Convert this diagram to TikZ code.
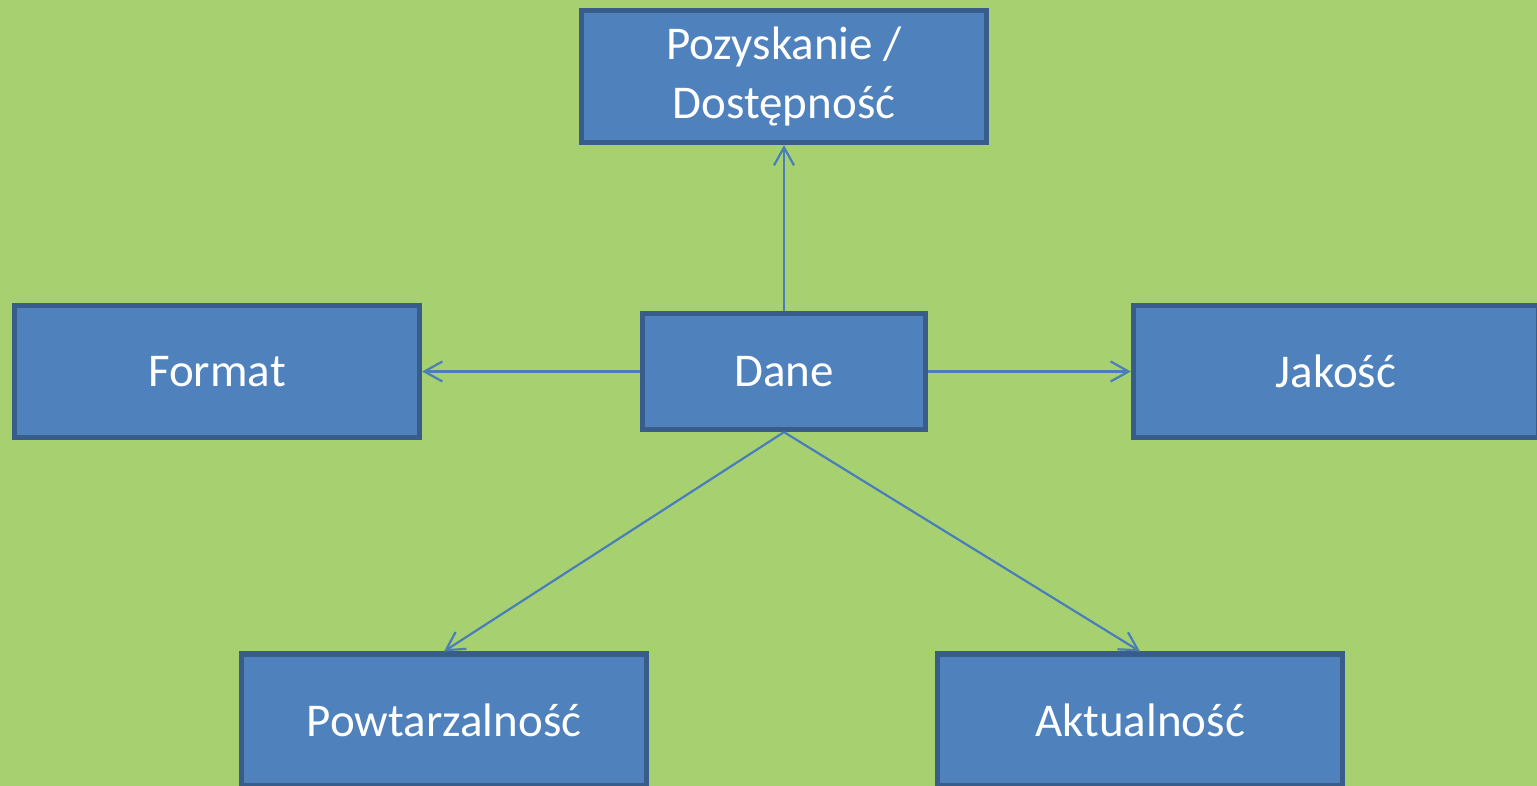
\documentclass[tikz,border=0pt]{standalone}
\usepackage{fontspec}
\setmainfont{Carlito}
\usetikzlibrary{arrows.meta}
\definecolor{bg}{HTML}{A7D170}
\definecolor{boxfill}{HTML}{4F81BD}
\definecolor{boxline}{HTML}{385D8A}
\definecolor{conn}{HTML}{4A7EBB}
\tikzset{
  box/.style={draw=boxline, fill=boxfill, line width=2.6pt, text=white,
    font=\fontsize{23.5}{29.5}\selectfont, align=center, inner sep=0pt,
    minimum width=202.5pt, minimum height=66pt},
  smallbox/.style={box, minimum width=141.5pt, minimum height=58pt},
  conn/.style={draw=conn, line width=1.1pt, -{Straight Barb[length=9pt,width=10pt,line width=1.1pt]}}
}
\begin{document}
\begin{tikzpicture}[x=0.5pt,y=-0.5pt]
\fill[bg] (0,0) rectangle (1537,786);
\useasboundingbox (0,0) rectangle (1537,786);
\node[box] (top) at (784,76.5) {Pozyskanie /\\Dostępność};
\node[box] (format) at (217,371.5) {Format};
\node[smallbox] (dane) at (784,371.5) {Dane};
\node[box] (jakosc) at (1336,371.5) {Jakość};
\node[box] (powt) at (444,720) {Powtarzalność};
\node[box] (akt) at (1140,720) {Aktualność};
\draw[conn] (dane.north) -- (top.south);
\draw[conn] (dane.west) -- (format.east);
\draw[conn] (dane.east) -- (jakosc.west);
\draw[conn] (dane.south) -- (powt.north);
\draw[conn] (dane.south) -- (akt.north);
\end{tikzpicture}
\end{document}
